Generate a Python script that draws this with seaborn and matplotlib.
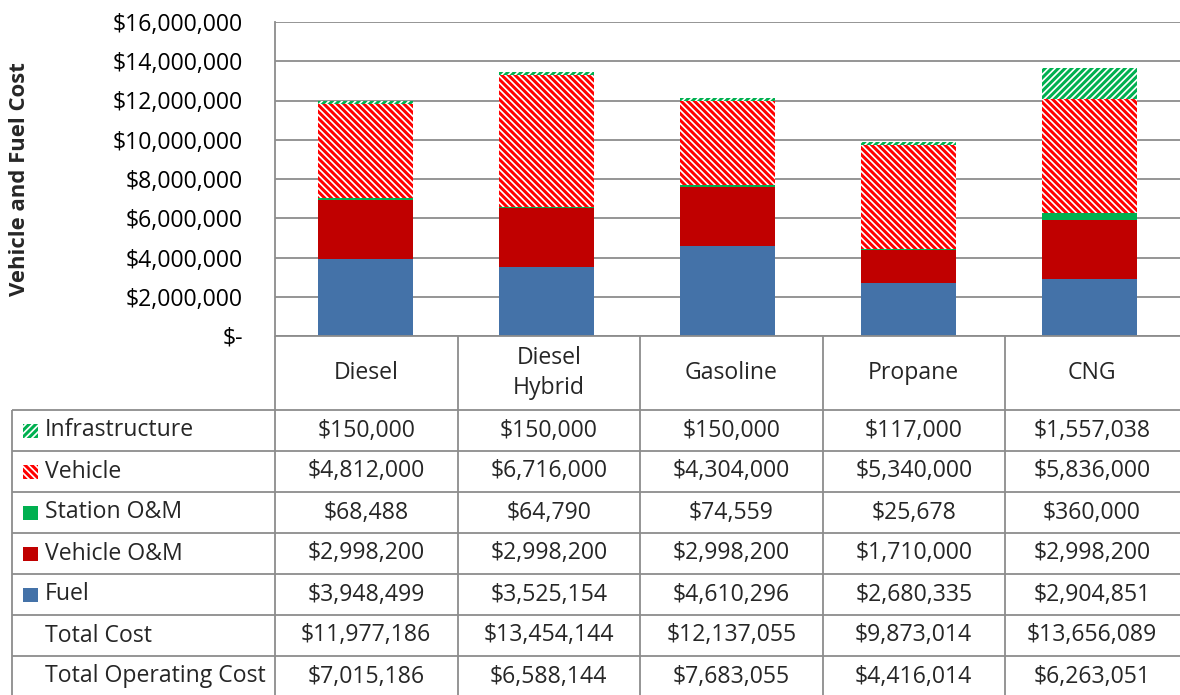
import pandas as pd
import matplotlib.pyplot as plt
import seaborn as sns
from matplotlib.patches import Rectangle
from matplotlib.ticker import FuncFormatter

categories = ['Diesel', 'Diesel Hybrid', 'Gasoline', 'Propane', 'CNG']
header_labels = ['Diesel', 'Diesel\nHybrid', 'Gasoline', 'Propane', 'CNG']
fuel = [3948499, 3525154, 4610296, 2680335, 2904851]
vehicle_om = [2998200, 2998200, 2998200, 1710000, 2998200]
station_om = [68488, 64790, 74559, 25678, 360000]
vehicle = [4812000, 6716000, 4304000, 5340000, 5836000]
infrastructure = [150000, 150000, 150000, 117000, 1557038]
total_cost = [11977186, 13454144, 12137055, 9873014, 13656089]
total_operating = [7015186, 6588144, 7683055, 4416014, 6263051]
y_ticks = [0, 2000000, 4000000, 6000000, 8000000, 10000000, 12000000, 14000000, 16000000]

# Series styles: (name, values, face, hatch colour, hatch)
series = [
    ('Infrastructure', infrastructure, 'white', '#00B050', '////'),
    ('Vehicle', vehicle, 'white', '#FF0000', '\\\\\\\\'),
    ('Station O&M', station_om, '#00B050', None, None),
    ('Vehicle O&M', vehicle_om, '#C00000', None, None),
    ('Fuel', fuel, '#4472A8', None, None),
]

# hatch spacing is tied to dpi, so work at 80 dpi and size things in pixels
DPI = 80
PT = 72 / DPI  # points per pixel

sns.set_style('white')
plt.rcParams['font.family'] = ['Open Sans', 'DejaVu Sans']
plt.rcParams['hatch.linewidth'] = 3.0 * PT
FS = 23 * PT
LW = 1.8 * PT
GRID = '#8C8C8C'

W, H = 1180, 695
fig = plt.figure(figsize=(W / DPI, H / DPI), dpi=DPI)


def px_axes(l, t, r, b):
    return fig.add_axes([l / W, 1 - b / H, (r - l) / W, (b - t) / H])


ax = px_axes(275, 22, 1180, 336)

# Stacked bars: draw cumulative totals from top layer down
df = pd.DataFrame({'category': categories})
stack_order = ['Fuel', 'Vehicle O&M', 'Station O&M', 'Vehicle', 'Infrastructure']
vals = {s[0]: s[1] for s in series}
running = [0] * len(categories)
for name in stack_order:
    running = [a + b for a, b in zip(running, vals[name])]
    df[name] = running

for name, _, face, hcol, hatch in series:
    sns.barplot(data=df, x='category', y=name, color=face, saturation=1,
                width=0.52, linewidth=0, errorbar=None, ax=ax, zorder=3)
    if hatch:
        for p in ax.containers[-1]:
            p.set_edgecolor(hcol)
            p.set_hatch(hatch)
            p.set_linewidth(0)

ax.set_xlim(-0.5, 4.5)
ax.set_ylim(0, 16000000)
ax.set_yticks(y_ticks)
ax.yaxis.set_major_formatter(FuncFormatter(lambda v, _: '$-' if v == 0 else f'${v:,.0f}'))
ax.tick_params(axis='y', length=0, pad=32 * PT, labelsize=FS, labelcolor='black')
ax.set_xticks([])
ax.set_xlabel('')
ax.set_ylabel('')
ax.grid(axis='y', color=GRID, linewidth=LW, zorder=0)
for s in ['top', 'right', 'bottom']:
    ax.spines[s].set_visible(False)
ax.spines['left'].set_color(GRID)
ax.spines['left'].set_linewidth(LW)
fig.text(20 / W, 1 - 179 / H, 'Vehicle and Fuel Cost', rotation=90, ha='center',
         va='center', fontsize=FS * 0.96, fontweight='bold')

# Data table below the chart
tab = fig.add_axes([0, 0, 1, 1], facecolor='none')
tab.set_xlim(0, W)
tab.set_ylim(H, 0)
tab.axis('off')

col_edges = [275, 457.5, 640, 822.5, 1005, 1187.5]
row_edges = [410, 451, 492, 533, 574, 615, 656, 697]
lk = dict(color=GRID, linewidth=LW, solid_capstyle='butt')
tab.plot([275, W], [336, 336], **lk)
for y in row_edges[:-1]:
    tab.plot([12, W], [y, y], **lk)
tab.plot([12, 12], [410, H], **lk)
tab.plot([275, 275], [336, H], **lk)
for x in col_edges[1:-1]:
    tab.plot([x, x], [336, H], **lk)

centers = [(col_edges[i] + col_edges[i + 1]) / 2 for i in range(5)]
centers[-1] = 1092
for cx, lab in zip(centers, header_labels):
    tab.text(cx, 373, lab, ha='center', va='center', fontsize=FS, linespacing=1.3)

rows = [(s[0], s[1], s[2], s[3], s[4]) for s in series]
rows += [('Total Cost', total_cost, None, None, None),
         ('Total Operating Cost', total_operating, None, None, None)]
for i, (name, values, face, hcol, hatch) in enumerate(rows):
    cy = (row_edges[i] + row_edges[i + 1]) / 2
    if face is not None:
        tab.add_patch(Rectangle((23, cy - 7), 15, 14, facecolor=face,
                                edgecolor=hcol if hatch else 'none',
                                hatch=hatch, linewidth=0))
    tab.text(45, cy, name, ha='left', va='center', fontsize=FS)
    for cx, v in zip(centers, values):
        tab.text(cx, cy, f'${v:,.0f}', ha='center', va='center', fontsize=FS)

fig.savefig('out.png', dpi=DPI)
